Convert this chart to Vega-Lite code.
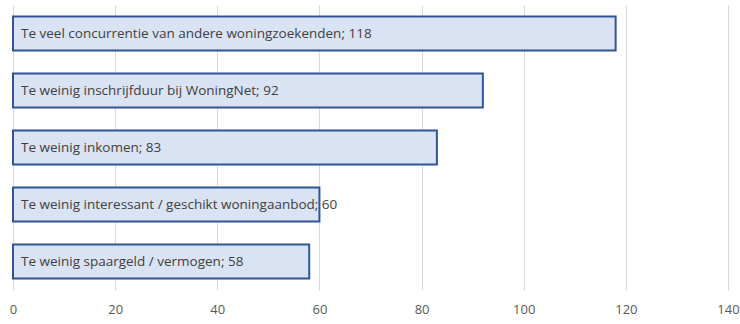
{
  "$schema": "https://vega.github.io/schema/vega-lite/v6.json",
  "width": 715,
  "height": 285,
  "autosize": {"type": "none"},
  "padding": {"left": 13, "top": 5, "right": 12, "bottom": 34},
  "background": "white",
  "config": {"view": {"stroke": null}, "font": "Open Sans"},
  "data": {
    "values": [
      {"reden": "Te veel concurrentie van andere woningzoekenden", "aantal": 118},
      {"reden": "Te weinig inschrijfduur bij WoningNet", "aantal": 92},
      {"reden": "Te weinig inkomen", "aantal": 83},
      {"reden": "Te weinig interessant / geschikt woningaanbod", "aantal": 60},
      {"reden": "Te weinig spaargeld / vermogen", "aantal": 58}
    ]
  },
  "transform": [{"calculate": "datum.reden + '; ' + datum.aantal", "as": "label"}],
  "encoding": {
    "y": {"field": "reden", "type": "nominal", "sort": null, "axis": null,
          "scale": {"paddingInner": 0.4, "paddingOuter": 0.2}}
  },
  "layer": [
    {
      "mark": {"type": "bar", "fill": "#dae3f3", "stroke": "#2f5597", "strokeWidth": 2},
      "encoding": {
        "x": {"field": "aantal", "type": "quantitative",
              "scale": {"domain": [0, 140], "nice": false},
              "axis": {"values": [0, 20, 40, 60, 80, 100, 120, 140], "title": null,
                       "domain": false, "ticks": false, "grid": true, "gridColor": "#d9d9d9",
                       "labelFontSize": 13, "labelColor": "#595959", "labelPadding": 13,
                       "labelFont": "Open Sans", "labelFlush": false}}
      }
    },
    {
      "mark": {"type": "text", "align": "left", "baseline": "middle", "dx": 8,
               "fontSize": 13.5, "color": "#404040", "font": "Open Sans"},
      "encoding": {
        "x": {"datum": 0, "type": "quantitative"},
        "text": {"field": "label"}
      }
    }
  ]
}
